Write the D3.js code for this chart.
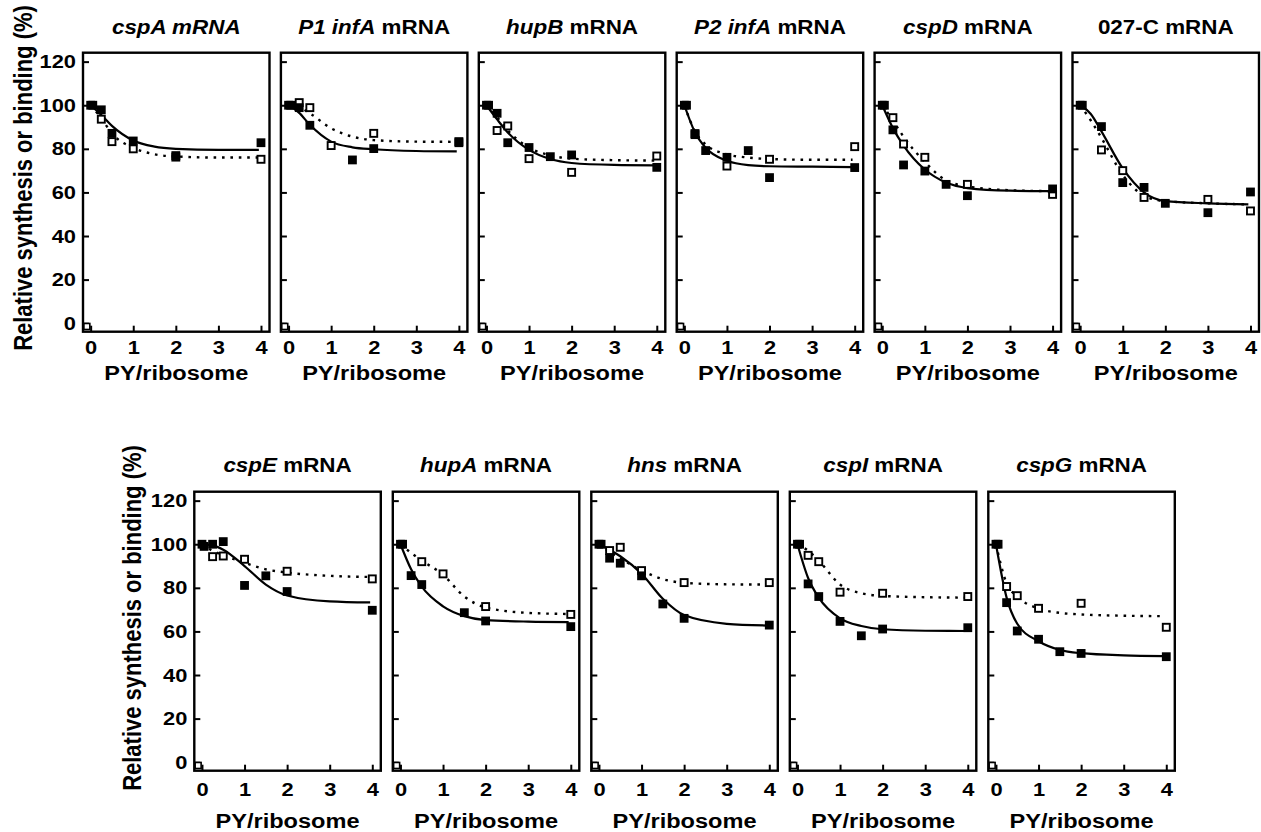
<!DOCTYPE html>
<html>
<head>
<meta charset="utf-8">
<script src="https://cdn.jsdelivr.net/npm/d3@7"></script>
<style>
  html, body { margin: 0; padding: 0; background: #fff; }
  svg { display: block; }
</style>
</head>
<body>
<div id="chart"></div>
<script>
// Panel titles: italic gene part + roman remainder
const titleItalic = ['cspA mRNA', 'P1 infA', 'hupB', 'P2 infA', 'cspD', '', 'cspE', 'hupA', 'hns', 'cspI', 'cspG'];
const titleRoman  = ['', ' mRNA', ' mRNA', ' mRNA', ' mRNA', '027-C mRNA', ' mRNA', ' mRNA', ' mRNA', ' mRNA', ' mRNA'];

const xTicks = [0, 1, 2, 3, 4];
const yTicks = [0, 20, 40, 60, 80, 100, 120];
const xLabel = 'PY/ribosome';
const yLabel = 'Relative synthesis or binding (%)';

// filled squares [PY/ribosome, %]
const filledPts = [
  [[0,100],[0.05,100],[0.25,97.9],[0.5,87.1],[1,83.6],[2,76.9],[4,82.8]],
  [[0,100],[0.05,100],[0.25,98.9],[0.5,90.8],[1.5,74.9],[2,80.1],[4,82.8]],
  [[0,100],[0.05,100],[0.25,96.3],[0.5,82.8],[1,80.6],[1.5,76.4],[2,77.2],[4,71.5]],
  [[0,100],[0.05,100],[0.25,86.5],[0.5,79.2],[1,76.1],[1.5,79.2],[2,66.8],[4,71.4]],
  [[0,100],[0.05,100],[0.25,88.7],[0.5,72.6],[1,69.8],[1.5,63.7],[2,58.5],[4,61.6]],
  [[0,100],[0.05,100],[0.5,90.2],[1,64.5],[1.5,62.3],[2,55],[3,50.7],[4,60.2]],
  [[0,100],[0.05,99],[0.25,100],[0.5,101.2],[1,81.1],[1.5,85.5],[2,78.3],[4,69.7]],
  [[0,100],[0.05,100],[0.25,85.6],[0.5,81.5],[1.5,68.6],[2,64.8],[4,62.2]],
  [[0,100],[0.05,100],[0.25,93.6],[0.5,91.3],[1,85.5],[1.5,72.6],[2,66],[4,62.9]],
  [[0,100],[0.05,100],[0.25,81.8],[0.5,76],[1,64.6],[1.5,58],[2,61.1],[4,61.7]],
  [[0,100],[0.05,100],[0.25,73.2],[0.5,60.2],[1,56.4],[1.5,50.7],[2,49.9],[4,48.4]]
];

// open squares
const openPts = [
  [[0.25,93.6],[0.5,83.3],[1,80],[2,76.2],[4,75.2]],
  [[0.25,101.2],[0.5,98.9],[1,81.5],[2,87.1],[4,83.3]],
  [[0.25,88.4],[0.5,90.5],[1,75.5],[2,69.2],[4,76.7]],
  [[0.25,87],[1,72.1],[2,75.2],[4,81]],
  [[0.25,94.3],[0.5,82.2],[1,76.1],[2,63.7],[4,59.1]],
  [[0.5,79.5],[1,70],[1.5,57.7],[3,56.8],[4,51.5]],
  [[0.25,94.3],[0.5,94.6],[1,93.1],[2,87.6],[4,84.1]],
  [[0.5,92],[1,86.4],[2,71.4],[4,67.8]],
  [[0.25,97.1],[0.5,98.6],[1,87.9],[2,82.4],[4,82.4]],
  [[0.25,94.9],[0.5,92],[1,78],[2,77.5],[4,76]],
  [[0.25,80.6],[0.5,76.4],[1,70.6],[2,72.9],[4,61.9]]
];

// fitted curves at these x positions
const fitX = [0, 0.25, 0.5, 1, 1.5, 2, 3, 3.95];
const solidFit = [
  [100, 95.5, 90.5, 83.8, 81, 80, 79.5, 79.5],
  [100, 96.5, 91, 83.3, 80.7, 79.8, 79, 78.8],
  [100, 93.5, 87.5, 79.5, 75.3, 73.5, 72.6, 72.4],
  [100, 87.5, 80.5, 74.5, 72.5, 72, 71.8, 71.6],
  [100, 89.5, 81.5, 70.5, 64.5, 62, 60.8, 60.6],
  [100, 96, 88, 71, 60, 56, 55, 54.5],
  [100, 99.5, 97.5, 90, 81.5, 76.5, 73.8, 73.3],
  [100, 88.5, 80.5, 71.5, 67, 65.2, 64.5, 64.3],
  [100, 97.5, 94.5, 86.5, 75, 67.5, 63.5, 62.7],
  [100, 84.5, 75.5, 66, 62.5, 61, 60.3, 60.2],
  [100, 75.5, 63.5, 55.5, 51.5, 50, 49, 48.7]
];
const dottedFit = [
  [100, 94, 87, 80.5, 77.5, 76.5, 76, 76],
  [100, 99, 96.3, 89.4, 85.6, 84, 83.3, 83.2],
  [100, 94.5, 88.5, 80.5, 77, 75.5, 74.8, 74.6],
  [100, 88, 82, 77.5, 76, 75.3, 75, 75],
  [100, 93, 85.5, 74, 65.5, 62.8, 61, 60.6],
  [100, 93, 85, 68, 58.5, 56, 55, 54.5],
  [100, 97, 95, 91.5, 88.5, 87, 85.5, 85],
  [100, 96, 92.5, 86, 76, 71, 68.5, 68],
  [100, 96.5, 93.5, 88, 84, 82.3, 81.6, 81.5],
  [100, 97, 92.5, 81.5, 77.5, 76.3, 75.7, 75.5],
  [100, 82, 76, 70.5, 68.5, 67.8, 67.2, 67]
];

// small open marker the plotting program leaves in the lower-left corner
const cornerMark = [[-0.09, -1.5]];

const W = 1261, H = 832;
const font = '"Liberation Sans", Arial, Helvetica, sans-serif';
const S = 1.15; // the original figure is stretched horizontally

// layout per row
const rows = [
  { panels: [0, 1, 2, 3, 4, 5], x0: 83, stride: 197.9, top: 52.7, titleY: 33.5, tickPad: 8.5, xLabY: 380, yLabX: 23.3, yLabY: 178 },
  { panels: [6, 7, 8, 9, 10], x0: 194.3, stride: 198.5, top: 491.7, titleY: 471.7, tickPad: 11.5, xLabY: 828, yLabX: 131.7, yLabY: 618 }
];
const pw = 186.5, ph = 279;

const svg = d3.select('#chart').append('svg')
  .attr('width', W).attr('height', H)
  .attr('viewBox', `0 0 ${W} ${H}`)
  .style('font-family', font);
svg.append('rect').attr('width', W).attr('height', H).attr('fill', '#fff');

const x = d3.scaleLinear().domain([-0.18, 4.2]).range([0, pw]);
const y = d3.scaleLinear().domain([-3.9, 124.1]).range([ph, 0]);
const line = d3.line().x(d => x(d[0])).y(d => y(d[1])).curve(d3.curveMonotoneX);

const sq = 8.8;

// widen axis text around its own anchor
function widen(sel) {
  sel.attr('transform', function () {
    const tx = +this.getAttribute('x') || 0;
    return `translate(${tx},0) scale(${S},1) translate(${-tx},0)`;
  });
}

rows.forEach(row => {
  row.panels.forEach((p, i) => {
    const left = row.x0 + i * row.stride;
    const g = svg.append('g').attr('transform', `translate(${left},${row.top})`);

    // y axis (inward ticks)
    g.append('g')
      .call(d3.axisLeft(y).tickValues(yTicks).tickSizeInner(-6).tickSizeOuter(0).tickPadding(7)
        .tickFormat(i === 0 ? d3.format('d') : () => ''))
      .call(a => {
        a.select('.domain').remove();
        a.selectAll('line').attr('stroke', '#000').attr('stroke-width', 2);
        a.selectAll('text').attr('fill', '#000').style('font-size', '19px').style('font-weight', 'bold')
          .style('font-family', font).call(widen);
      });

    // x axis
    g.append('g')
      .attr('transform', `translate(0,${ph})`)
      .call(d3.axisBottom(x).tickValues(xTicks).tickSizeInner(-6).tickSizeOuter(0)
        .tickPadding(row.tickPad).tickFormat(d3.format('d')))
      .call(a => {
        a.select('.domain').remove();
        a.selectAll('line').attr('stroke', '#000').attr('stroke-width', 2);
        a.selectAll('text').attr('fill', '#000').style('font-size', '19px').style('font-weight', 'bold')
          .style('font-family', font).call(widen);
      });

    // fit curves
    const solid = fitX.map((v, k) => [v, solidFit[p][k]]);
    const dotted = fitX.map((v, k) => [v, dottedFit[p][k]]);
    g.append('path').attr('d', line(dotted)).attr('fill', 'none')
      .attr('stroke', '#000').attr('stroke-width', 2.4).attr('stroke-dasharray', '2.6 5.8');
    g.append('path').attr('d', line(solid)).attr('fill', 'none')
      .attr('stroke', '#000').attr('stroke-width', 2.2);

    // open squares
    g.selectAll('rect.open').data(openPts[p]).join('rect').attr('class', 'open')
      .attr('x', d => x(d[0]) - sq / 2 + 0.9).attr('y', d => y(d[1]) - sq / 2 + 0.9)
      .attr('width', sq - 1.8).attr('height', sq - 1.8)
      .attr('fill', '#fff').attr('stroke', '#000').attr('stroke-width', 1.9);

    // filled squares
    g.selectAll('rect.filled').data(filledPts[p]).join('rect').attr('class', 'filled')
      .attr('x', d => x(d[0]) - sq / 2).attr('y', d => y(d[1]) - sq / 2)
      .attr('width', sq).attr('height', sq).attr('fill', '#000');

    // corner marker
    g.selectAll('rect.corner').data(cornerMark).join('rect').attr('class', 'corner')
      .attr('x', d => x(d[0]) - 3).attr('y', d => y(d[1]) - 3)
      .attr('width', 6).attr('height', 6)
      .attr('fill', '#fff').attr('stroke', '#000').attr('stroke-width', 1.6);

    // frame
    g.append('rect').attr('width', pw).attr('height', ph)
      .attr('fill', 'none').attr('stroke', '#000').attr('stroke-width', 2.4);

    // title
    const t = g.append('text')
      .attr('transform', `translate(${pw / 2},${row.titleY - row.top}) scale(${S},1)`)
      .attr('text-anchor', 'middle').style('font-size', '19.5px').style('font-weight', 'bold');
    if (titleItalic[p]) t.append('tspan').style('font-style', 'italic').text(titleItalic[p]);
    if (titleRoman[p]) t.append('tspan').text(titleRoman[p]);

    // x label
    g.append('text')
      .attr('transform', `translate(${pw / 2},${row.xLabY - row.top}) scale(${S},1)`)
      .attr('text-anchor', 'middle').style('font-size', '20.5px').style('font-weight', 'bold')
      .text(xLabel);
  });

  // y label
  svg.append('text')
    .attr('transform', `translate(${row.yLabX},${row.yLabY}) scale(${S},1) rotate(-90)`)
    .attr('text-anchor', 'middle').attr('dy', '0.35em')
    .style('font-size', '22px').style('font-weight', 'bold')
    .text(yLabel);
});
</script>
</body>
</html>
